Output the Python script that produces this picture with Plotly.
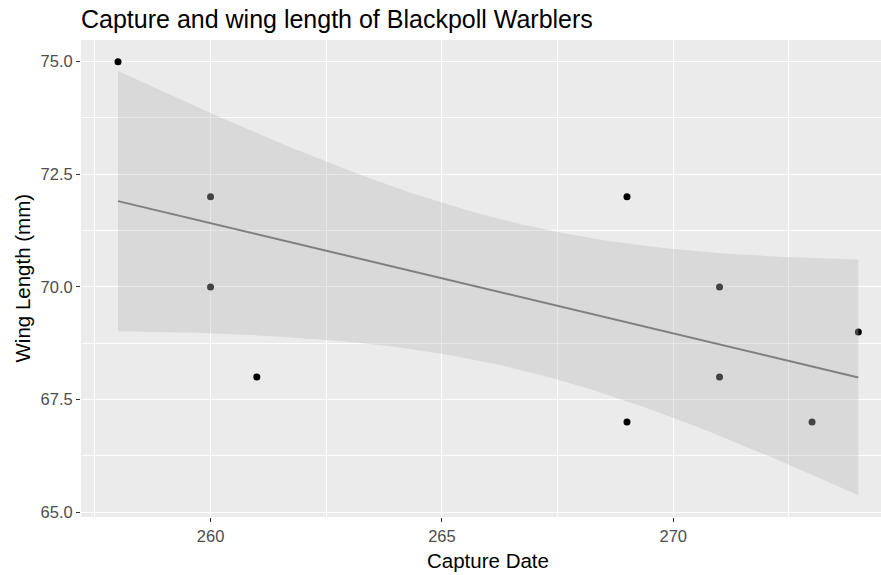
import numpy as np
import plotly.graph_objects as go

# Data
capture_date = [258, 260, 260, 261, 269, 269, 271, 271, 273, 274]
wing_length = [75, 72, 70, 68, 72, 67, 70, 68, 67, 69]
x_ticks = [260, 265, 270]
y_ticks = [65.0, 67.5, 70.0, 72.5, 75.0]

# Linear model with 95% confidence band (like geom_smooth(method="lm"))
x = np.array(capture_date, dtype=float)
y = np.array(wing_length, dtype=float)
n = len(x)
xm, ym = x.mean(), y.mean()
sxx = ((x - xm) ** 2).sum()
b = ((x - xm) * (y - ym)).sum() / sxx
a = ym - b * xm
resid = y - (a + b * x)
s = np.sqrt((resid ** 2).sum() / (n - 2))
t_crit = 2.306004  # t(0.975, df=8)
xs = np.linspace(x.min(), x.max(), 80)
fit = a + b * xs
se = s * np.sqrt(1.0 / n + (xs - xm) ** 2 / sxx)
upper = fit + t_crit * se
lower = fit - t_crit * se

fig = go.Figure()
fig.add_trace(go.Scatter(x=capture_date, y=wing_length, mode="markers",
                         marker=dict(color="black", size=7), hoverinfo="skip"))
fig.add_trace(go.Scatter(x=np.concatenate([xs, xs[::-1]]),
                         y=np.concatenate([upper, lower[::-1]]),
                         fill="toself", fillcolor="rgba(185,185,185,0.36)",
                         line=dict(width=0), mode="lines", hoverinfo="skip"))
fig.add_trace(go.Scatter(x=xs, y=fit, mode="lines",
                         line=dict(color="#7f7f7f", width=2), hoverinfo="skip"))

span = x.max() - x.min()
xlo = x.min() - 0.05 * span
xhi_full = x.max() + 0.05 * span
ymin = min(y.min(), lower.min()); ymax = max(y.max(), upper.max())
yspan = ymax - ymin

fig.update_layout(
    width=881, height=575,
    margin=dict(l=81, r=0, t=40, b=58),
    paper_bgcolor="white", plot_bgcolor="#EBEBEB",
    showlegend=False,
    font=dict(family="Liberation Sans, Arial, sans-serif"),
    title=dict(text="Capture and wing length of Blackpoll Warblers",
               font=dict(size=25, color="black"),
               xref="paper", x=0.0, xanchor="left",
               yref="container", y=1 - 19 / 575, yanchor="middle"),
    xaxis=dict(range=[xlo, 274.49], tickmode="array", tickvals=x_ticks,
               ticktext=[str(v) for v in x_ticks],
               showgrid=True, gridcolor="white", gridwidth=1.1, zeroline=False,
               ticks="outside", ticklen=4, tickwidth=1, tickcolor="#333333",
               tickfont=dict(size=16.5, color="#4D4D4D"),
               minor=dict(dtick=2.5, tick0=0, showgrid=True, gridcolor="white",
                          gridwidth=0.55, ticks=""),
               showline=False),
    yaxis=dict(range=[ymin - 0.05 * yspan, ymax + 0.05 * yspan],
               tickmode="array", tickvals=y_ticks,
               ticktext=["%.1f" % v for v in y_ticks],
               showgrid=True, gridcolor="white", gridwidth=1.1, zeroline=False,
               ticks="outside", ticklen=4, tickwidth=1, tickcolor="#333333",
               tickfont=dict(size=16.5, color="#4D4D4D"),
               minor=dict(dtick=1.25, tick0=65, showgrid=True, gridcolor="white",
                          gridwidth=0.55, ticks=""),
               showline=False),
    annotations=[
        dict(text="Capture Date", xref="x", x=(xlo + xhi_full) / 2,
             yref="paper", y=0, yanchor="middle", yshift=-43,
             showarrow=False, font=dict(size=20.5, color="black")),
        dict(text="Wing Length (mm)", xref="paper", x=0, xanchor="center",
             xshift=-59, yref="paper", y=0.5, yanchor="middle",
             textangle=-90, showarrow=False, font=dict(size=20.5, color="black")),
    ],
)

fig.write_html("out.html")
